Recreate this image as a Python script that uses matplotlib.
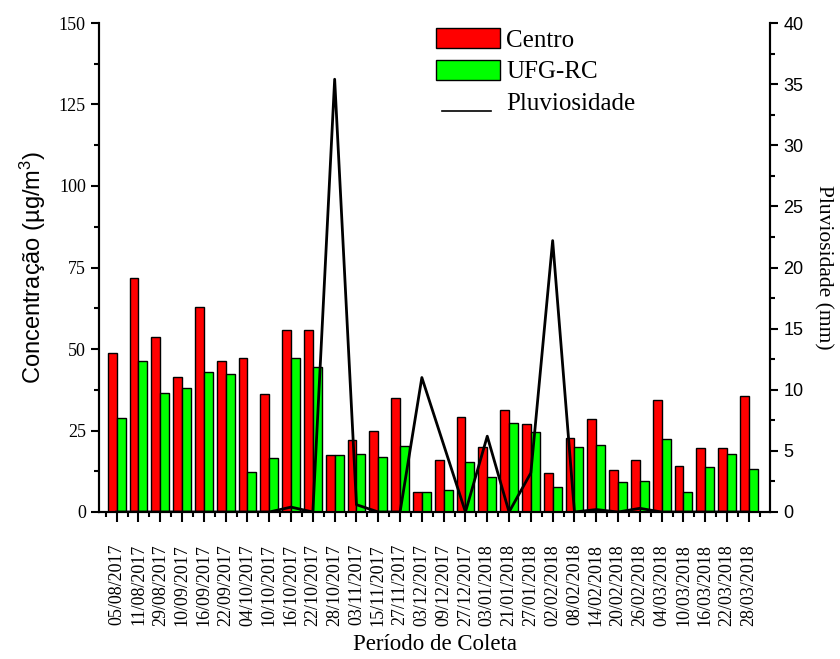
import numpy as np
import matplotlib
matplotlib.use('Agg')
import matplotlib.pyplot as plt
from matplotlib.patches import Patch
from matplotlib.lines import Line2D
from matplotlib.ticker import MultipleLocator

# Datas de coleta
datas = ['05/08/2017', '11/08/2017', '29/08/2017', '10/09/2017', '16/09/2017',
         '22/09/2017', '04/10/2017', '10/10/2017', '16/10/2017', '22/10/2017',
         '28/10/2017', '03/11/2017', '15/11/2017', '27/11/2017', '03/12/2017',
         '09/12/2017', '27/12/2017', '03/01/2018', '21/01/2018', '27/01/2018',
         '02/02/2018', '08/02/2018', '14/02/2018', '20/02/2018', '26/02/2018',
         '04/03/2018', '10/03/2018', '16/03/2018', '22/03/2018', '28/03/2018']

# Concentracao (ug/m3) em cada ponto
centro = [48.7, 71.9, 53.8, 41.3, 63.0, 46.3, 47.2, 36.2, 55.9, 55.8,
          17.5, 22.1, 24.9, 34.9, 6.2, 16.0, 29.2, 19.8, 31.3, 27.0,
          11.9, 22.8, 28.4, 12.9, 16.0, 34.4, 14.2, 19.5, 19.7, 35.6]
ufg_rc = [28.7, 46.4, 36.6, 37.9, 43.0, 42.2, 12.4, 16.5, 47.1, 44.6,
          17.5, 17.7, 17.0, 20.2, 6.0, 6.7, 15.4, 10.6, 27.2, 24.6,
          7.6, 20.0, 20.6, 9.3, 9.5, 22.3, 6.1, 13.9, 17.7, 13.1]

# Pluviosidade (mm)
chuva = [0, 0, 0, 0, 0, 0, 0, 0, 0.4, 0,
         35.4, 0.6, 0, 0, 11.0, 5.5, 0, 6.2, 0, 3.2,
         22.2, 0, 0.2, 0, 0.3, 0, 0, 0, 0, 0]

serif = 'Liberation Serif'
sans = 'Liberation Sans'
plt.rcParams['mathtext.fontset'] = 'custom'
plt.rcParams['mathtext.rm'] = sans
plt.rcParams['mathtext.it'] = sans

x = np.arange(len(datas))
w = 0.41

fig = plt.figure(figsize=(8.4, 6.59), dpi=100)
ax = fig.add_axes([99/840, 1 - 512/659, 671/840, 489/659])
ax2 = ax.twinx()

ax.bar(x - w/2, centro, w, color='#ff0000', edgecolor='black', linewidth=1.0, zorder=2)
ax.bar(x + w/2, ufg_rc, w, color='#00ff00', edgecolor='black', linewidth=1.0, zorder=2)
ax2.plot(x, chuva, color='black', linewidth=2.0, zorder=3)

ax.set_xlim(-0.81, 29.97)
ax.set_ylim(0, 150)
ax2.set_ylim(0, 40)

ax.set_xticks(x)
ax.set_xticklabels(datas, rotation=90, fontfamily=serif, fontsize=13)
ax.xaxis.set_minor_locator(MultipleLocator(0.5))
ax.yaxis.set_major_locator(MultipleLocator(25))
ax.yaxis.set_minor_locator(MultipleLocator(12.5))
ax2.yaxis.set_major_locator(MultipleLocator(5))
ax2.yaxis.set_minor_locator(MultipleLocator(2.5))

for lab in ax.get_yticklabels():
    lab.set_fontfamily(serif)
    lab.set_fontsize(13)
for lab in ax2.get_yticklabels():
    lab.set_fontfamily(sans)
    lab.set_fontsize(13)

ax.tick_params(axis='both', which='major', direction='out', length=6, width=1.5)
ax.tick_params(axis='both', which='minor', direction='out', length=3.5, width=1.5)
ax.tick_params(axis='x', which='major', length=7, pad=16)
ax2.tick_params(axis='y', which='major', direction='out', length=6, width=1.5)
ax2.tick_params(axis='y', which='minor', direction='out', length=3.5, width=1.5)

for a in (ax, ax2):
    a.spines['top'].set_visible(False)
    for s in ('left', 'right', 'bottom'):
        a.spines[s].set_linewidth(1.5)

ax.set_xlabel('Período de Coleta', fontfamily=serif, fontsize=16.5, labelpad=6)
ax.set_ylabel('Concentração (µg/m$^3$)', fontfamily=sans, fontsize=17, labelpad=8)
ax2.set_ylabel('Pluviosidade (mm)', fontfamily=serif, fontsize=15.5, rotation=270, labelpad=21)

handles = [Patch(facecolor='#ff0000', edgecolor='black', linewidth=1.0),
           Patch(facecolor='#00ff00', edgecolor='black', linewidth=1.0),
           Line2D([], [], color='black', linewidth=1.2)]
leg = ax2.legend(handles, ['Centro', 'UFG-RC', 'Pluviosidade'],
                 loc='upper left', bbox_to_anchor=((436 - 99)/671, 1 - 5/489),
                 frameon=False, borderpad=0, borderaxespad=0,
                 prop={'family': serif, 'size': 18},
                 handlelength=2.55, handleheight=0.85, handletextpad=0.25,
                 labelspacing=0.33)
# linha da pluviosidade na base da entrada, um pouco mais curta
ln = leg.get_lines()[0]
xd = np.asarray(ln.get_xdata(), dtype=float)
yd = np.asarray(ln.get_ydata(), dtype=float)
ln.set_data([xd.min() + 4, xd.max() - 6], [yd[0] - 7, yd[0] - 7])

fig.savefig('out.png', dpi=100)
